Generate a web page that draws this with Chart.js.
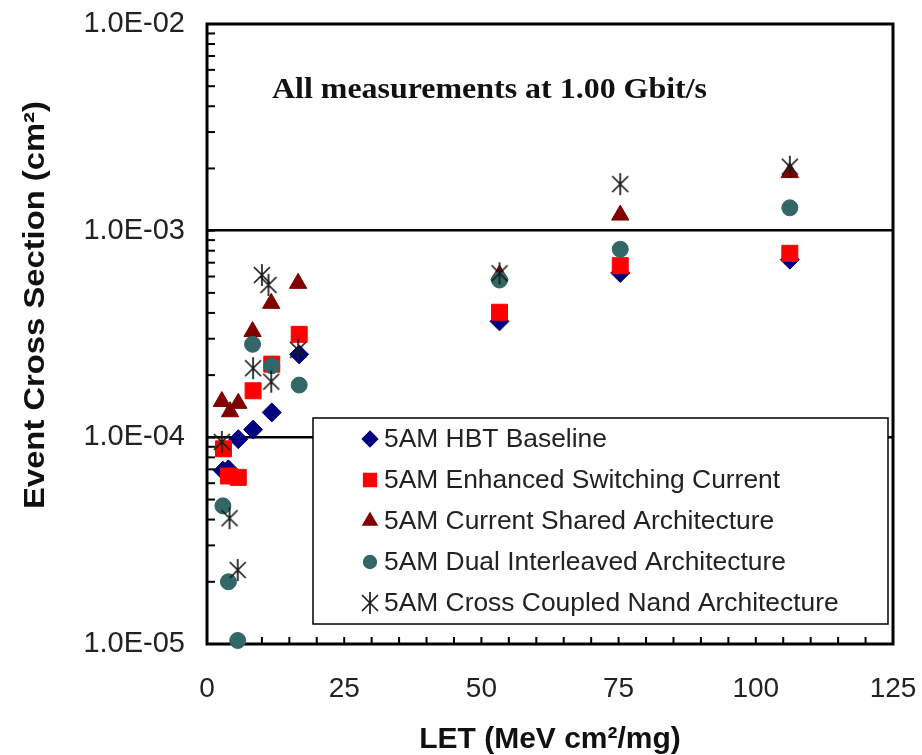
<!DOCTYPE html>
<html>
<head>
<meta charset="utf-8">
<script src="https://cdn.jsdelivr.net/npm/chart.js@4.4.1/dist/chart.umd.min.js"></script>
<style>
  body { margin: 0; background: #fff; }
  #wrap { width: 922px; height: 755px; }
</style>
</head>
<body>
<div id="wrap"><canvas id="myChart" width="922" height="755"></canvas></div>
<script>
// series data (LET in MeV cm2/mg, cross section in cm2)
const seriesNames = [
  '5AM HBT Baseline',
  '5AM Enhanced Switching Current',
  '5AM Current Shared Architecture',
  '5AM Dual Interleaved Architecture',
  '5AM Cross Coupled Nand Architecture'
];
const hbtX = [2.9, 3.9, 5.7, 8.4, 11.8, 16.8, 53.3, 75.3, 106.2];
const hbtY = [6.9e-5, 7.0e-5, 9.8e-5, 1.09e-4, 1.32e-4, 2.52e-4, 3.64e-4, 6.24e-4, 7.24e-4];
const enhX = [3.0, 3.9, 5.7, 8.4, 11.8, 16.8, 53.3, 75.3, 106.2];
const enhY = [8.8e-5, 6.5e-5, 6.4e-5, 1.68e-4, 2.26e-4, 3.15e-4, 4.03e-4, 6.77e-4, 7.77e-4];
const curX = [2.7, 4.2, 5.7, 8.3, 11.7, 16.6, 53.3, 75.3, 106.2];
const curY = [1.49e-4, 1.33e-4, 1.46e-4, 3.25e-4, 4.45e-4, 5.56e-4, 6.1e-4, 1.19e-3, 1.91e-3];
const dualX = [2.9, 3.9, 5.6, 8.3, 11.8, 16.8, 53.3, 75.3, 106.2];
const dualY = [4.66e-5, 2.0e-5, 1.04e-5, 2.82e-4, 2.22e-4, 1.79e-4, 5.77e-4, 8.13e-4, 1.29e-3];
const nandX = [2.7, 4.1, 5.6, 8.4, 10.0, 11.2, 11.7, 16.6, 53.3, 75.3, 106.2];
const nandY = [9.5e-5, 4.06e-5, 2.28e-5, 2.16e-4, 6.1e-4, 5.46e-4, 1.86e-4, 2.65e-4, 6.22e-4, 1.68e-3, 2.04e-3];

const xTicks = [0, 25, 50, 75, 100, 125];
const yDecades = [1e-5, 1e-4, 1e-3, 1e-2];
const yTickLabels = ['1.0E-05', '1.0E-04', '1.0E-03', '1.0E-02'];
const noteText = 'All measurements at 1.00 Gbit/s';

function pts(xs, ys) {
  return xs.map(function(x, i) { return {x: x, y: ys[i]}; });
}

// asterisk marker like excel's (X plus vertical bar)
const star = document.createElement('canvas');
star.width = 22; star.height = 24;
(function() {
  const c = star.getContext('2d');
  c.strokeStyle = '#1a1a1a';
  c.lineWidth = 1.7;
  c.beginPath();
  c.moveTo(3, 4); c.lineTo(19, 20);
  c.moveTo(19, 4); c.lineTo(3, 20);
  c.moveTo(11, 1); c.lineTo(11, 23);
  c.stroke();
})();

const styles = [
  {color: '#000080', pointStyle: 'rectRot', radius: 9.5, order: 5},
  {color: '#ff0000', pointStyle: 'rect', radius: 11.3, order: 4},
  {color: '#800000', pointStyle: 'triangle', radius: 10, order: 3},
  {color: '#336666', pointStyle: 'circle', radius: 8, order: 2},
  {color: '#1a1a1a', pointStyle: star, radius: 11, order: 1}
];
const seriesData = [pts(hbtX, hbtY), pts(enhX, enhY), pts(curX, curY), pts(dualX, dualY), pts(nandX, nandY)];

const isDecade = function(v) {
  const l = Math.log10(v);
  return Math.abs(l - Math.round(l)) < 1e-9;
};

const frameAndTicks = {
  id: 'frameAndTicks',
  beforeDatasetsDraw(chart) {
    const ctx = chart.ctx, a = chart.chartArea;
    const xs = chart.scales.x, ys = chart.scales.y;
    ctx.save();
    ctx.strokeStyle = '#000';
    ctx.lineWidth = 2;
    // minor ticks on left axis
    ys.ticks.forEach(function(t) {
      const py = ys.getPixelForValue(t.value);
      ctx.beginPath(); ctx.moveTo(a.left, py); ctx.lineTo(a.left + 8, py); ctx.stroke();
    });
    // minor ticks on bottom axis every 5
    for (let v = 5; v < 125; v += 5) {
      const px = xs.getPixelForValue(v);
      ctx.beginPath(); ctx.moveTo(px, a.bottom); ctx.lineTo(px, a.bottom - 7); ctx.stroke();
    }
    ctx.lineWidth = 3;
    ctx.strokeRect(a.left, a.top, a.right - a.left, a.bottom - a.top);
    ctx.restore();
  },
  afterDatasetsDraw(chart) {
    const ctx = chart.ctx;
    ctx.save();
    // note text, fitted to the width it has in the figure
    ctx.fillStyle = '#111';
    ctx.font = 'bold 29px "Liberation Serif", serif';
    ctx.textBaseline = 'middle';
    const nw = ctx.measureText(noteText).width;
    ctx.save();
    ctx.translate(272, 91);
    ctx.scale(435 / nw, 1);
    ctx.fillText(noteText, 0, 0);
    ctx.restore();

    // legend box
    const bx = 313, by = 418, bw = 575, bh = 206;
    ctx.fillStyle = '#fff';
    ctx.fillRect(bx, by, bw, bh);
    ctx.strokeStyle = '#000';
    ctx.lineWidth = 1.5;
    ctx.strokeRect(bx, by, bw, bh);
    ctx.font = '26.4px "Liberation Sans", Arial, sans-serif';
    ctx.textBaseline = 'middle';
    seriesNames.forEach(function(name, i) {
      const ry = 439 + i * 41;
      const s = styles[i];
      ctx.fillStyle = s.color;
      ctx.strokeStyle = s.color;
      Chart.helpers.drawPoint(ctx, {pointStyle: s.pointStyle, radius: s.radius * 0.8, rotation: 0, borderWidth: 1}, 370, ry);
      ctx.fillStyle = '#222';
      ctx.fillText(name, 384, ry + 1);
    });

    // y axis title
    ctx.translate(36, 305);
    ctx.rotate(-Math.PI / 2);
    ctx.scale(1.13, 1);
    ctx.font = 'bold 29px "Liberation Sans", Arial, sans-serif';
    ctx.textAlign = 'center';
    ctx.textBaseline = 'middle';
    ctx.fillStyle = '#111';
    ctx.fillText('Event Cross Section (cm\u00b2)', 0, 0);
    ctx.restore();
  }
};

const ctx = document.getElementById('myChart').getContext('2d');
const myChart = new Chart(ctx, {
  type: 'scatter',
  data: {
    datasets: seriesData.map(function(d, i) {
      const s = styles[i];
      return {
        label: seriesNames[i],
        data: d,
        order: s.order,
        pointStyle: s.pointStyle,
        pointRadius: s.radius,
        pointBackgroundColor: s.color,
        pointBorderColor: s.color,
        pointBorderWidth: 1,
        clip: false
      };
    })
  },
  options: {
    responsive: false,
    animation: false,
    layout: { padding: { top: 24, right: 29, left: 0, bottom: 0 } },
    plugins: {
      legend: { display: false },
      tooltip: { enabled: false }
    },
    scales: {
      x: {
        type: 'linear',
        min: 0,
        max: 125,
        afterBuildTicks: function(scale) {
          scale.ticks = xTicks.map(function(v) { return {value: v}; });
        },
        afterFit: function(scale) {
          scale.height = 111;
          scale.paddingLeft = 0;
          scale.paddingRight = 0;
        },
        ticks: {
          autoSkip: false,
          maxRotation: 0,
          padding: 28,
          color: '#222',
          font: { size: 28, family: '"Liberation Sans", Arial, sans-serif' }
        },
        grid: { display: false, drawTicks: false },
        border: { display: false },
        title: {
          display: true,
          text: 'LET (MeV cm\u00b2/mg)',
          color: '#111',
          padding: { top: 0, bottom: 0 },
          font: { size: 30, weight: 'bold', lineHeight: 1, family: '"Liberation Sans", Arial, sans-serif' }
        }
      },
      y: {
        type: 'logarithmic',
        min: 1e-5,
        max: 1e-2,
        afterBuildTicks: function(scale) {
          const t = [];
          for (let e = -5; e < -2; e++) {
            for (let m = 1; m < 10; m++) t.push({value: m * Math.pow(10, e)});
          }
          t.push({value: 1e-2});
          scale.ticks = t;
        },
        afterFit: function(scale) {
          scale.width = 207;
          scale.paddingTop = 0;
          scale.paddingBottom = 0;
        },
        ticks: {
          autoSkip: false,
          padding: 22,
          color: '#222',
          font: { size: 29, family: '"Liberation Sans", Arial, sans-serif' },
          callback: function(v) {
            if (!isDecade(v)) return '';
            const i = yDecades.findIndex(function(d) { return Math.abs(Math.log10(d) - Math.log10(v)) < 1e-6; });
            return i >= 0 ? yTickLabels[i] : '';
          }
        },
        grid: {
          drawTicks: false,
          lineWidth: 2.5,
          color: function(c) {
            const v = c.tick && c.tick.value;
            return (v && isDecade(v) && v > 1.5e-5 && v < 5e-3) ? '#000' : 'rgba(0,0,0,0)';
          }
        },
        border: { display: false }
      }
    }
  },
  plugins: [frameAndTicks]
});
</script>
</body>
</html>
